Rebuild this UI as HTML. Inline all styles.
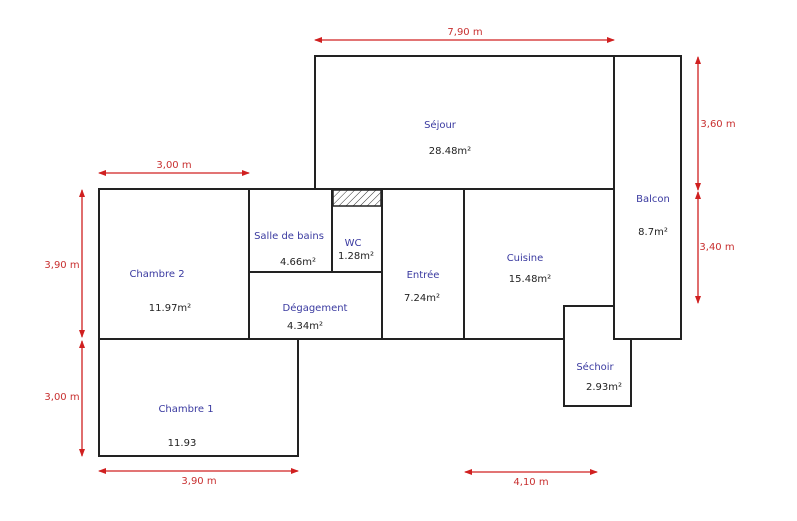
<!DOCTYPE html>
<html><head><meta charset="utf-8"><style>
body{margin:0;background:#fff}
svg{display:block}
text{font-family:"DejaVu Sans","Liberation Sans",sans-serif;font-size:10px}
.b{fill:#3a3aa0}.k{fill:#222}.r{fill:#c83030;font-size:9.5px}
</style></head><body>
<svg width="797" height="521" viewBox="0 0 797 521">
<defs>
<pattern id="h" width="5" height="5" patternUnits="userSpaceOnUse" patternTransform="rotate(45)"><line x1="0" y1="0" x2="0" y2="5" stroke="#333" stroke-width="1"/></pattern>
<marker id="a" markerWidth="8" markerHeight="8" refX="7" refY="4" orient="auto-start-reverse" markerUnits="userSpaceOnUse"><path d="M0,1 L8,4 L0,7 Z" fill="#d02020"/></marker>
</defs>
<g fill="none" stroke="#222" stroke-width="2">
<rect x="315" y="56" width="299" height="133"/>
<rect x="614" y="56" width="67" height="283"/>
<rect x="99" y="189" width="150" height="150"/>
<rect x="99" y="339" width="199" height="117"/>
<rect x="249" y="189" width="83" height="83"/>
<rect x="332" y="189" width="50" height="83"/>
<rect x="249" y="272" width="133" height="67"/>
<rect x="382" y="189" width="82" height="150"/>
<path d="M464,189 H614"/>
<path d="M464,339 H564"/>
<path d="M614,306 H564 V406 H631 V339"/>
</g>
<rect x="333" y="190" width="48" height="16" fill="url(#h)" stroke="#222" stroke-width="1.5"/>
<g stroke="#d02020" stroke-width="1.3" marker-start="url(#a)" marker-end="url(#a)">
<line x1="315" y1="40" x2="614" y2="40"/>
<line x1="99" y1="173" x2="249" y2="173"/>
<line x1="82" y1="190" x2="82" y2="337"/>
<line x1="82" y1="341" x2="82" y2="456"/>
<line x1="99" y1="471" x2="298" y2="471"/>
<line x1="465" y1="472" x2="597" y2="472"/>
<line x1="698" y1="57" x2="698" y2="190"/>
<line x1="698" y1="192" x2="698" y2="303"/>
</g>
<g class="r" text-anchor="middle">
<text x="465" y="35">7,90 m</text>
<text x="174" y="168">3,00 m</text>
<text x="199" y="484">3,90 m</text>
<text x="531" y="485">4,10 m</text>
<text x="62" y="268">3,90 m</text>
<text x="62" y="400">3,00 m</text>
<text x="718" y="127">3,60 m</text>
<text x="717" y="250">3,40 m</text>
</g>
<g text-anchor="middle">
<text class="b" x="440" y="128">Séjour</text><text class="k" x="450" y="154">28.48m²</text>
<text class="b" x="653" y="202">Balcon</text><text class="k" x="653" y="235">8.7m²</text>
<text class="b" x="157" y="277">Chambre 2</text><text class="k" x="170" y="311">11.97m²</text>
<text class="b" x="289" y="239">Salle de bains</text><text class="k" x="298" y="265">4.66m²</text>
<text class="b" x="353" y="246">WC</text><text class="k" x="356" y="259">1.28m²</text>
<text class="b" x="315" y="311">Dégagement</text><text class="k" x="305" y="329">4.34m²</text>
<text class="b" x="423" y="278">Entrée</text><text class="k" x="422" y="301">7.24m²</text>
<text class="b" x="525" y="261">Cuisine</text><text class="k" x="530" y="282">15.48m²</text>
<text class="b" x="595" y="370">Séchoir</text><text class="k" x="604" y="390">2.93m²</text>
<text class="b" x="186" y="412">Chambre 1</text><text class="k" x="182" y="446">11.93</text>
</g>
</svg>
</body></html>
